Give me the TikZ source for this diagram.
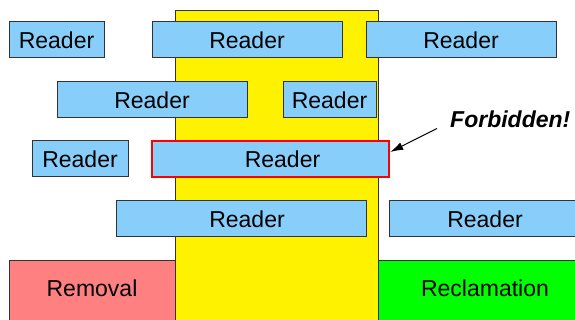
\documentclass[tikz,border=0pt]{standalone}
\usepackage{fontspec}
\setmainfont{Liberation Sans}
\usetikzlibrary{arrows.meta}

\definecolor{readerblue}{RGB}{135,206,250}
\definecolor{removalred}{RGB}{255,128,128}
\definecolor{reclaimgreen}{RGB}{0,255,0}

\tikzset{
  reader/.style={draw=black!80, fill=readerblue, line width=1pt, minimum height=36pt, inner sep=0pt},
  phase/.style={draw=black!80, line width=1pt}
}

\begin{document}
\begin{tikzpicture}[x=1pt, y=-1pt, font=\fontsize{23}{27}\selectfont]
  \useasboundingbox (0,0) rectangle (575,320);
  \fill[white] (0,0) rectangle (575,320);
  \draw[phase, fill=yellow] (175,11) rectangle (378,330);
  \draw[phase, fill=removalred] (9,260) rectangle (175,330);
  \draw[phase, fill=reclaimgreen] (378,260) rectangle (590,330);
  \node (removal) at (92,288) {Removal};
  \node (reclamation) at (485,288) {Reclamation};

  \node[reader, minimum width=95pt]  (reader1) at (56.5,40) {Reader};
  \node[reader, minimum width=190pt] (reader2) at (247,40) {Reader};
  \node[reader, minimum width=190pt] (reader3) at (461,40) {Reader};
  \node[reader, minimum width=190pt] (reader4) at (152,100) {Reader};
  \node[reader, minimum width=93pt]  (reader5) at (329.5,100) {Reader};
  \node[reader, minimum width=96pt]  (reader6) at (80,159) {Reader};
  \node[reader, minimum width=237pt, draw=red, line width=2.5pt] (reader7) at (270.5,159) {\hspace*{24pt}Reader};
  \node[reader, minimum width=250pt] (reader8) at (241,219) {\hspace*{12pt}Reader};
  \node[reader, minimum width=192pt] (reader9) at (485,219) {Reader};

  \node[anchor=base west, inner sep=0pt, font=\fontsize{23}{27}\selectfont\bfseries\itshape] (forbid) at (450,128) {Forbidden!};
  \draw[-{Latex[length=13pt, width=8pt]}, line width=1pt] ([xshift=-13pt]forbid.south west) -- ([yshift=7pt]reader7.east);
\end{tikzpicture}
\end{document}
